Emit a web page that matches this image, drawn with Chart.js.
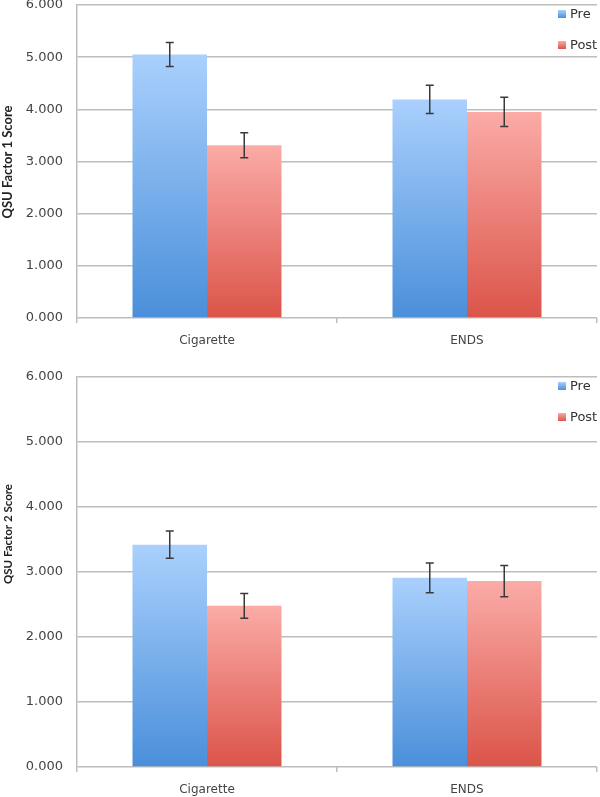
<!DOCTYPE html>
<html>
<head>
<meta charset="utf-8">
<script src="https://cdn.jsdelivr.net/npm/chart.js@4/dist/chart.umd.min.js"></script>
<style>
  html, body { margin: 0; padding: 0; background: #fff; overflow: hidden; }
  .box { position: absolute; left: 0; width: 600px; }
  #top { top: -3px; height: 353px; }
  #bottom { top: 350px; height: 447px; }
</style>
</head>
<body>
<div class="box" id="top"><canvas id="chart1"></canvas></div>
<div class="box" id="bottom"><canvas id="chart2"></canvas></div>
<script>
// data
const categories = ['Cigarette', 'ENDS'];
const seriesNames = ['Pre', 'Post'];

const factor1Pre = [5.05, 4.19];
const factor1Post = [3.31, 3.95];
const factor1PreErr = [0.23, 0.27];
const factor1PostErr = [0.24, 0.28];

const factor2Pre = [3.42, 2.91];
const factor2Post = [2.48, 2.86];
const factor2PreErr = [0.21, 0.23];
const factor2PostErr = [0.19, 0.24];

const yMin = 0, yMax = 6, yStep = 1;

const BLUE = ['#aad0fd', '#4a8fda'];
const RED = ['#fbaba7', '#db5449'];
const FONT = 'DejaVu Sans';
const TITLE_FONT = 'Lato';

// vertical gradient per bar, light at the top of the bar
function barFill(colors) {
    return (ctx) => {
        const chart = ctx.chart;
        const area = chart.chartArea;
        if (!area || ctx.type !== 'data') return colors[1];
        const y = chart.scales.y.getPixelForValue(ctx.raw);
        const g = chart.ctx.createLinearGradient(0, y, 0, area.bottom);
        g.addColorStop(0, colors[0]);
        g.addColorStop(1, colors[1]);
        return g;
    };
}

const errorBars = {
    id: 'errorBars',
    afterDatasetsDraw(chart) {
        const c = chart.ctx;
        const y = chart.scales.y;
        c.save();
        c.strokeStyle = '#3a3a3a';
        c.lineWidth = 1.5;
        chart.data.datasets.forEach((ds, i) => {
            const meta = chart.getDatasetMeta(i);
            meta.data.forEach((bar, j) => {
                const v = ds.data[j], e = ds.errors[j];
                const y1 = y.getPixelForValue(v + e), y2 = y.getPixelForValue(v - e);
                const x = bar.x, w = 4;
                c.beginPath();
                c.moveTo(x, y1); c.lineTo(x, y2);
                c.moveTo(x - w, y1); c.lineTo(x + w, y1);
                c.moveTo(x - w, y2); c.lineTo(x + w, y2);
                c.stroke();
            });
        });
        c.restore();
    }
};

// legend sits inside the plot, top right, items stacked
const sideLegend = {
    id: 'sideLegend',
    afterDraw(chart) {
        const c = chart.ctx;
        const area = chart.chartArea;
        c.save();
        c.font = '13px "' + FONT + '"';
        c.textBaseline = 'middle';
        chart.data.datasets.forEach((ds, i) => {
            const cy = area.top + 9 + i * 31;
            const g = c.createLinearGradient(0, cy - 4, 0, cy + 4);
            g.addColorStop(0, ds.swatch[0]);
            g.addColorStop(1, ds.swatch[1]);
            c.fillStyle = g;
            c.fillRect(558, cy - 4, 8, 8);
            c.fillStyle = '#333';
            c.fillText(ds.label, 570, cy + 1);
        });
        c.restore();
    }
};

// rotated y title, drawn so it can sit off-centre like the original
const sideTitle = {
    id: 'sideTitle',
    afterDraw(chart, args, opts) {
        const c = chart.ctx;
        c.save();
        c.translate(8, opts.y);
        c.rotate(-Math.PI / 2);
        c.font = 'bold ' + opts.size + 'px "' + TITLE_FONT + '"';
        c.fillStyle = '#222';
        c.textAlign = 'center';
        c.textBaseline = 'middle';
        c.fillText(opts.text, 0, 0);
        c.restore();
    }
};

function makeChart(id, title, pre, post, preErr, postErr, padTop, xHeight, titleY, titleSize) {
    return new Chart(document.getElementById(id), {
        type: 'bar',
        data: {
            labels: categories,
            datasets: [
                { label: seriesNames[0], data: pre, errors: preErr, swatch: BLUE, backgroundColor: barFill(BLUE) },
                { label: seriesNames[1], data: post, errors: postErr, swatch: RED, backgroundColor: barFill(RED) }
            ]
        },
        options: {
            responsive: true,
            maintainAspectRatio: false,
            animation: false,
            layout: { padding: { top: padTop, right: 3, left: 0, bottom: 0 } },
            datasets: { bar: { barPercentage: 1, categoryPercentage: 0.573, borderWidth: 0 } },
            plugins: {
                legend: { display: false },
                tooltip: { enabled: false },
                sideTitle: { text: title, y: titleY, size: titleSize }
            },
            scales: {
                x: {
                    afterFit: (s) => { s.height = xHeight; },
                    grid: { display: true, drawOnChartArea: false, drawTicks: true, tickLength: 5, color: '#bdbdbd', lineWidth: 1.5 },
                    border: { display: false },
                    ticks: { color: '#444', font: { family: FONT, size: 12 }, padding: 11 }
                },
                y: {
                    min: yMin, max: yMax,
                    afterFit: (s) => { s.width = 77; },
                    grid: { color: '#bdbdbd', lineWidth: 1.5, drawTicks: true, tickLength: 14, tickColor: 'rgba(0,0,0,0)' },
                    border: { color: '#bdbdbd', width: 1.5 },
                    ticks: {
                        stepSize: yStep, padding: 0, color: '#444',
                        font: { family: FONT, size: 13 },
                        callback: (v) => Number(v).toFixed(3)
                    }
                }
            }
        },
        plugins: [errorBars, sideLegend, sideTitle]
    });
}

makeChart('chart1', 'QSU Factor 1 Score', factor1Pre, factor1Post, factor1PreErr, factor1PostErr, 8, 32, 165, 13);
makeChart('chart2', 'QSU Factor 2 Score', factor2Pre, factor2Post, factor2PreErr, factor2PostErr, 27, 30, 184, 11.5);
</script>
</body>
</html>
